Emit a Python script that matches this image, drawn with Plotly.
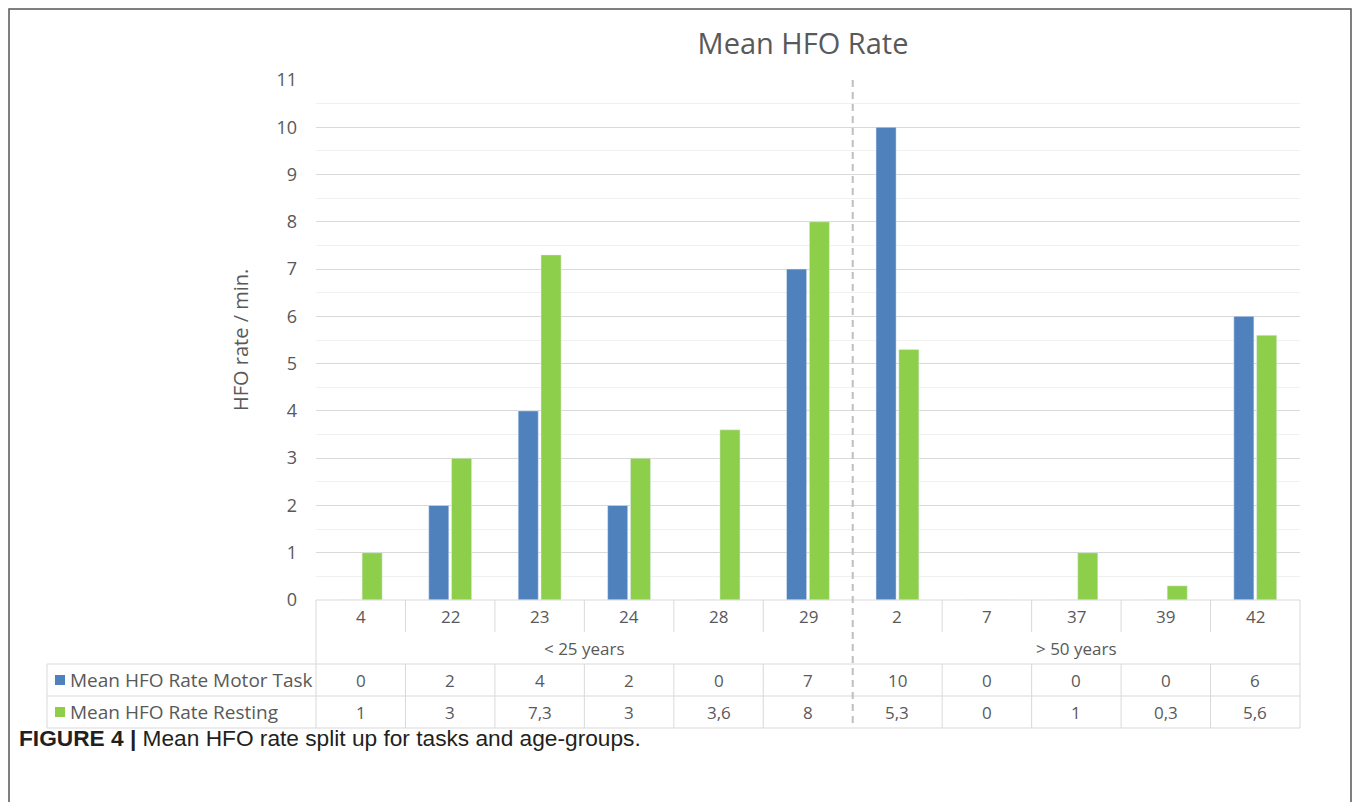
import plotly.graph_objects as go

# ---- data ----
patients = ["4", "22", "23", "24", "28", "29", "2", "7", "37", "39", "42"]
groups = ["< 25 years", "> 50 years"]
group_sizes = [6, 5]
motor_task = [0, 2, 4, 2, 0, 7, 10, 0, 0, 0, 6]
resting = [1, 3, 7.3, 3, 3.6, 8, 5.3, 0, 1, 0.3, 5.6]
series_names = ["Mean HFO Rate Motor Task", "Mean HFO Rate Resting"]
y_ticks = list(range(0, 12))

BLUE = "#4F81BD"
GREEN = "#8DCF4A"
TXT = "#595959"
GRID = "#D9D9D9"
FONT = "Open Sans"

OFF = 8  # page body margin offset
W, H = 1360 - 2 * OFF, 810 - 2 * OFF
L, R, T, B = 316, 1300, 80, 600  # plot area in page pixels


def px(X):
    return (X - L) / (R - L)


def py(Y):
    return (B - Y) / (B - T)


def fmt(v):
    return f"{v:g}".replace(".", ",")


n = len(patients)
xs = list(range(n))

fig = go.Figure()
fig.add_trace(go.Bar(x=xs, y=motor_task, name=series_names[0], marker_color=BLUE,
                     showlegend=False))
fig.add_trace(go.Bar(x=xs, y=resting, name=series_names[1], marker_color=GREEN,
                     showlegend=False))

shapes = []
ann = []
line = dict(color=GRID, width=1)

# table horizontal lines
shapes.append(dict(type="line", xref="paper", yref="paper", x0=0, x1=1, y0=py(600), y1=py(600), line=line))
for Y in (664, 696, 728):
    shapes.append(dict(type="line", xref="paper", yref="paper", x0=px(47), x1=1, y0=py(Y), y1=py(Y), line=line))
# table outer verticals
shapes.append(dict(type="line", xref="paper", yref="paper", x0=0, x1=0, y0=py(600), y1=py(728), line=line))
shapes.append(dict(type="line", xref="paper", yref="paper", x0=1, x1=1, y0=py(600), y1=py(728), line=line))
shapes.append(dict(type="line", xref="paper", yref="paper", x0=px(47), x1=px(47), y0=py(664), y1=py(728), line=line))

# group divider index
div = group_sizes[0] - 0.5
for k in range(n - 1):
    xb = k + 0.5
    if xb == div:
        continue
    shapes.append(dict(type="line", xref="x", yref="paper", x0=xb, x1=xb, y0=py(600), y1=py(632), line=line))
    shapes.append(dict(type="line", xref="x", yref="paper", x0=xb, x1=xb, y0=py(664), y1=py(728), line=line))
# dashed divider
shapes.append(dict(type="line", xref="x", yref="paper", x0=div, x1=div, y0=1, y1=py(728),
                   line=dict(color="#BFBFBF", width=2, dash="7px,5px")))

# legend squares in table
for i, (c, Y) in enumerate(((BLUE, 680), (GREEN, 712))):
    shapes.append(dict(type="rect", xref="paper", yref="paper", x0=px(55), x1=px(65),
                       y0=py(Y - 5), y1=py(Y + 5), fillcolor=c, line=dict(width=0)))
    ann.append(dict(xref="paper", yref="paper", x=px(68), y=py(Y), text=series_names[i],
                    showarrow=False, xanchor="left", yanchor="middle",
                    font=dict(family=FONT, size=19, color=TXT)))

# outer figure border (as close to the frame edges as the page allows)
shapes.append(dict(type="rect", xref="paper", yref="paper", x0=px(OFF + 1), x1=px(OFF + W - 1),
                   y0=py(830), y1=py(OFF + 1), line=dict(color="#555555", width=1.5)))

# category labels and table values
FS = 17
for k in range(n):
    ann.append(dict(xref="x", yref="paper", x=k, y=py(616), text=patients[k], showarrow=False,
                    yanchor="middle", font=dict(family=FONT, size=FS, color=TXT)))
    ann.append(dict(xref="x", yref="paper", x=k, y=py(680), text=fmt(motor_task[k]), showarrow=False,
                    yanchor="middle", font=dict(family=FONT, size=FS, color=TXT)))
    ann.append(dict(xref="x", yref="paper", x=k, y=py(712), text=fmt(resting[k]), showarrow=False,
                    yanchor="middle", font=dict(family=FONT, size=FS, color=TXT)))

# group labels
start = 0
for g, s in zip(groups, group_sizes):
    ann.append(dict(xref="x", yref="paper", x=start + (s - 1) / 2, y=py(648), text=g, showarrow=False,
                    yanchor="middle", font=dict(family=FONT, size=FS, color=TXT)))
    start += s

# y-axis title
ann.append(dict(xref="paper", yref="paper", x=px(240), y=py(340), text="HFO rate / min.", showarrow=False,
                textangle=-90, xanchor="center", yanchor="middle",
                font=dict(family=FONT, size=20, color=TXT)))

# caption
ann.append(dict(xref="paper", yref="paper", x=px(17), y=py(738), xanchor="left", yanchor="middle",
                text="<b>FIGURE 4 |</b> Mean HFO rate split up for tasks and age-groups.", showarrow=False,
                font=dict(family="Liberation Sans", size=22.7, color="#231F20")))

fig.update_layout(
    width=W, height=H,
    margin=dict(l=L - OFF, r=(OFF + W) - R, t=T - OFF, b=(OFF + H) - B, pad=0),
    paper_bgcolor="white", plot_bgcolor="white",
    barmode="group", bargap=0.49, bargroupgap=0.12,
    title=dict(text="Mean HFO Rate", x=px(803), xref="paper", xanchor="center",
               y=1 - (44 - OFF) / H, yanchor="middle",
               font=dict(family=FONT, size=29, color=TXT)),
    xaxis=dict(range=[-0.5, n - 0.5], showticklabels=False, showgrid=False, zeroline=False,
               showline=False, ticks=""),
    yaxis=dict(range=[0, 11], tickvals=y_ticks, showgrid=True, gridcolor=GRID, gridwidth=1,
               zeroline=False, showline=False, ticks="", ticklabelstandoff=18,
               tickfont=dict(family=FONT, size=18, color=TXT),
               minor=dict(dtick=0.5, showgrid=True, gridcolor="#F0F0F0", gridwidth=1)),
    shapes=shapes,
    annotations=ann,
)

fig.write_html("out.html")
